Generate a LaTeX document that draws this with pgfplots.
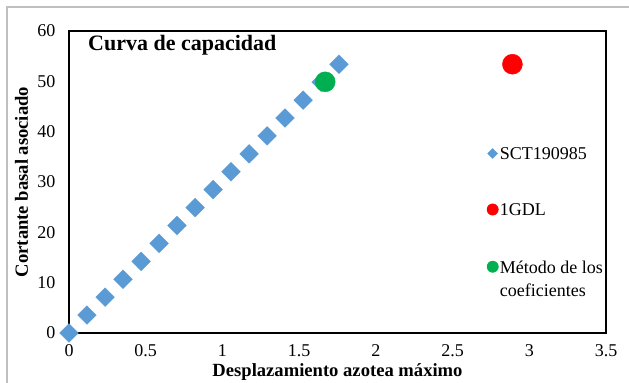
\documentclass[border=0pt]{standalone}
\usepackage{pgfplots}
\pgfplotsset{compat=1.18}
\usepackage{fontspec}
\setmainfont{Liberation Serif}
\definecolor{sctblue}{HTML}{5B9BD5}
\definecolor{gdlred}{HTML}{FF0000}
\definecolor{coefgreen}{HTML}{00B050}
\definecolor{framegray}{HTML}{BFBFBF}
\begin{document}
\begin{tikzpicture}
\useasboundingbox (0bp,0bp) rectangle (629bp,383bp);
\draw[framegray, line width=1.5bp] (7bp,0bp) -- (7bp,376bp) -- (629bp,376bp);
\begin{axis}[
 at={(69bp,50bp)}, anchor=south west,
 scale only axis, width=537bp, height=302bp,
 xmin=0, xmax=3.5, ymin=0, ymax=60,
 xtick={0,0.5,1,1.5,2,2.5,3,3.5}, ytick={0,10,20,30,40,50,60},
 major tick length=0pt,
 axis line style={line width=2.8bp, black},
 clip=false,
 /pgf/number format/assume math mode=true,
 tick label style={font=\fontsize{18bp}{22bp}\selectfont},
 xticklabel style={yshift=-10bp, inner ysep=1bp},
 yticklabel style={xshift=-10bp},
 xlabel={Desplazamiento azotea máximo},
 ylabel={Cortante basal asociado},
 label style={font=\bfseries\fontsize{18.6bp}{22bp}\selectfont},
 xlabel style={at={(axis description cs:0.5,-0.13)}, anchor=center, inner sep=0pt},
 ylabel style={at={(axis description cs:-0.0885,0.5)}, anchor=center},
 title={Curva de capacidad},
 title style={at={(axis description cs:0.0354,0.914)}, anchor=base west, inner sep=0pt, font=\bfseries\fontsize{22bp}{26bp}\selectfont},
 legend style={at={(axis description cs:0.778,0.619)}, anchor=north west, draw=none, fill=none, inner sep=0pt, row sep=41.5bp, font=\fontsize{18bp}{22bp}\selectfont, nodes={inner xsep=1.5bp, inner ysep=0pt}},
 legend cell align=left,
 legend image code/.code={\draw[#1] plot coordinates {(0bp,0bp)};},
]
\addplot[only marks, mark=square*, mark size=6.6bp, mark options={rotate=45, fill=sctblue, draw=sctblue}, forget plot] table {
x y
0 0
0.117 3.56
0.235 7.12
0.352 10.68
0.470 14.24
0.587 17.80
0.704 21.36
0.822 24.92
0.939 28.48
1.056 32.04
1.174 35.60
1.291 39.16
1.408 42.72
1.526 46.28
1.643 49.84
1.760 53.40
};
\addplot[only marks, mark=*, mark size=10bp, mark options={fill=gdlred, draw=gdlred}, forget plot] table {
x y
2.89 53.4
};
\addplot[only marks, mark=*, mark size=10bp, mark options={fill=coefgreen, draw=coefgreen}, forget plot] table {
x y
1.67 49.9
};
\addlegendimage{only marks, mark=square*, mark size=3.5bp, mark options={rotate=45, fill=sctblue, draw=sctblue}}
\addlegendentry{\rule[-4bp]{0pt}{17bp}SCT190985}
\addlegendimage{only marks, mark=*, mark size=5.7bp, mark options={fill=gdlred, draw=gdlred}}
\addlegendentry{\rule[-4bp]{0pt}{17bp}1GDL}
\addlegendimage{only marks, mark=*, mark size=5.7bp, mark options={fill=coefgreen, draw=coefgreen}}
\addlegendentry{\rule[-4bp]{0pt}{17bp}\raisebox{0pt}[\height][0pt]{\begin{tabular}[t]{@{}l@{}}Método de los\\[1bp]coeficientes\end{tabular}}}
\end{axis}
\end{tikzpicture}
\end{document}
